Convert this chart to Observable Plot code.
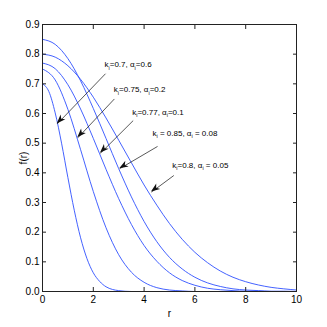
<!DOCTYPE html>
<html><head><meta charset="utf-8">
<script src="https://cdn.jsdelivr.net/npm/d3@7"></script>
<script src="https://cdn.jsdelivr.net/npm/@observablehq/plot@0.6"></script>
<style>body{margin:0;background:#fff}</style>
</head><body><div id="chart"></div>
<script>
// curve samples
const rFine = [0,0.25,0.5,0.75,1,1.25,1.5,1.75,2,2.25,2.5,2.75,3,3.5,4,5,6,7,8,9,10];
const fA = [0.700,0.674,0.602,0.500,0.384,0.274,0.181,0.111,0.063,0.034,0.016,0.007,0.003,0,0,0,0,0,0,0,0];
const rGrid = [0,0.5,1,1.5,2,2.5,3,3.5,4,4.5,5,5.5,6,6.5,7,7.5,8,8.5,9,9.5,10];
const fB = [0.750,0.713,0.614,0.478,0.337,0.215,0.124,0.065,0.031,0.013,0.005,0.002,0,0,0,0,0,0,0,0,0];
const fC = [0.770,0.751,0.697,0.615,0.516,0.412,0.313,0.226,0.155,0.102,0.063,0.037,0.021,0.011,0.006,0.003,0.001,0.001,0,0,0];
const fD = [0.850,0.833,0.785,0.710,0.617,0.516,0.414,0.319,0.236,0.168,0.115,0.076,0.048,0.029,0.017,0.009,0.005,0.003,0.001,0.001,0];
const fE = [0.800,0.790,0.761,0.715,0.655,0.585,0.510,0.434,0.359,0.291,0.229,0.176,0.132,0.097,0.069,0.048,0.033,0.022,0.014,0.009,0.005];

const xTicks = [0,2,4,6,8,10];
const yTicks = [0,0.1,0.2,0.3,0.4,0.5,0.6,0.7,0.8,0.9];

// annotations
const labelText = ["k_i=0.7, α_i=0.6","k_i=0.75, α_i=0.2","k_i=0.77, α_i=0.1","k_i = 0.85, α_i = 0.08","k_i=0.8, α_i = 0.05"];
const labelR = [2.44,2.81,3.53,4.33,5.11];
const labelF = [0.765,0.680,0.604,0.534,0.425];
const arrowFromR = [2.48,2.83,3.57,4.53,5.17];
const arrowFromF = [0.734,0.649,0.576,0.489,0.391];
const arrowToR = [0.58,1.39,2.28,3.04,4.29];
const arrowToF = [0.565,0.518,0.466,0.414,0.335];

const rows = [];
[[rFine,fA],[rGrid,fB],[rGrid,fC],[rGrid,fD],[rGrid,fE]].forEach(([rs,fs],s)=>
  rs.forEach((r,i)=>rows.push({series:s, r, f:fs[i]})));
const labels = labelText.map((t,i)=>({t, r:labelR[i], f:labelF[i]}));
const arrows = arrowFromR.map((r,i)=>({r1:r, f1:arrowFromF[i], r2:arrowToR[i], f2:arrowToF[i]}));

const plot = Plot.plot({
  width:327, height:327,
  marginLeft:42, marginRight:31, marginTop:24, marginBottom:36,
  style:{fontFamily:"'Liberation Sans', Arial, sans-serif", fontSize:"10px", background:"#fff", color:"#000"},
  x:{domain:[0,10]},
  y:{domain:[0,0.9]},
  marks:[
    Plot.line(rows,{x:"r", y:"f", z:"series", stroke:"#2f50ff", strokeWidth:0.9, curve:"monotone-x"}),
    Plot.frame({stroke:"#222", strokeWidth:1}),
    Plot.axisX({ticks:xTicks, tickSize:0, tickPadding:4, label:"r", labelAnchor:"center", labelArrow:"none", labelOffset:25}),
    Plot.axisX({ticks:xTicks, anchor:"bottom", tickSize:4, dy:-4, text:null, label:null, stroke:"#222"}),
    Plot.axisX({ticks:xTicks, anchor:"top", tickSize:4, dy:4, text:null, label:null, stroke:"#222"}),
    Plot.axisY({ticks:yTicks, tickSize:0, tickPadding:3, label:"f(r)", labelAnchor:"center", labelArrow:"none", labelOffset:23}),
    Plot.axisY({ticks:yTicks, anchor:"left", tickSize:4, dx:4, text:null, label:null, stroke:"#222"}),
    Plot.axisY({ticks:yTicks, anchor:"right", tickSize:4, dx:-4, text:null, label:null, stroke:"#222"}),
    Plot.link(arrows,{x1:"r1", y1:"f1", x2:"r2", y2:"f2", stroke:"#111", strokeWidth:0.7}),
    Plot.text(labels,{x:"r", y:"f", text:"t", textAnchor:"start", fontSize:8, fill:"#000"})
  ]
});

// subscripts
d3.select(plot).selectAll("text").each(function(){
  const s = this.textContent;
  if (!s.includes("_i")) return;
  const parts = s.split("_i");
  const t = d3.select(this);
  t.selectAll("*").remove();
  t.text(null);
  parts.forEach((p,i)=>{
    const sp = t.append("tspan").text(p);
    if (i>0) sp.attr("dy","-2.5");
    if (i<parts.length-1) t.append("tspan").text("i").attr("dy","2.5").attr("font-size","5.5");
  });
});

// filled arrowheads using the plot's scales
const sx = plot.scale("x"), sy = plot.scale("y");
const hg = d3.select(plot).append("g").attr("fill","#111");
arrows.forEach(a=>{
  const x1=sx.apply(a.r1), y1=sy.apply(a.f1), x2=sx.apply(a.r2), y2=sy.apply(a.f2);
  const dx=x2-x1, dy=y2-y1, L=Math.hypot(dx,dy), ux=dx/L, uy=dy/L, nx=-uy, ny=ux;
  const len=9, w=3.3, notch=6.5;
  const pts=[[x2,y2],[x2-len*ux+w*nx,y2-len*uy+w*ny],[x2-notch*ux,y2-notch*uy],[x2-len*ux-w*nx,y2-len*uy-w*ny]];
  hg.append("polygon").attr("points",pts.map(p=>p.join(",")).join(" "));
});

document.getElementById("chart").appendChild(plot);
</script>
</body></html>
